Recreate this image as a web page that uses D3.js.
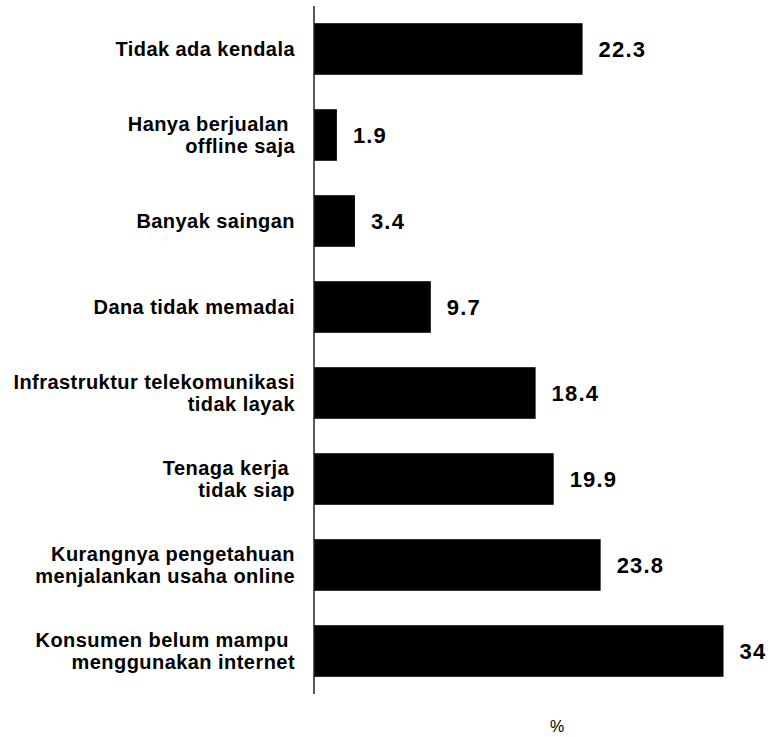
<!DOCTYPE html>
<html>
<head>
<meta charset="utf-8">
<script src="https://cdn.jsdelivr.net/npm/d3@7"></script>
<style>
  html, body { margin: 0; padding: 0; background: #fff; }
  svg { display: block; }
  text { font-family: "Liberation Sans", Arial, sans-serif; }
</style>
</head>
<body>
<svg id="chart" width="770" height="737"></svg>
<script>
const categories = [
  "Tidak ada kendala",
  "Hanya berjualan \noffline saja",
  "Banyak saingan",
  "Dana tidak memadai",
  "Infrastruktur telekomunikasi\ntidak layak",
  "Tenaga kerja \ntidak siap",
  "Kurangnya pengetahuan\nmenjalankan usaha online",
  "Konsumen belum mampu \nmenggunakan internet"
];
const values = [22.3, 1.9, 3.4, 9.7, 18.4, 19.9, 23.8, 34];
const valueLabels = ["22.3", "1.9", "3.4", "9.7", "18.4", "19.9", "23.8", "34"];
const unitLabel = "%";

const svg = d3.select("#chart");
const x = d3.scaleLinear().domain([0, 34]).range([314, 723.5]);
const y = d3.scaleBand().domain(categories).range([6, 694]).paddingInner(0.4).paddingOuter(0.2);

const data = categories.map((c, i) => ({ c, v: values[i], l: valueLabels[i] }));

svg.selectAll("rect.bar").data(data).enter().append("rect")
  .attr("class", "bar")
  .attr("x", x(0))
  .attr("y", d => y(d.c))
  .attr("width", d => x(d.v) - x(0))
  .attr("height", y.bandwidth())
  .attr("fill", "#000");

// axis line
svg.append("line")
  .attr("x1", x(0)).attr("x2", x(0))
  .attr("y1", y.range()[0]).attr("y2", y.range()[1])
  .attr("stroke", "#222").attr("stroke-width", 1.5);

// category labels
const lineH = 22.5;
const lab = svg.selectAll("text.cat").data(data).enter().append("text")
  .attr("class", "cat")
  .attr("text-anchor", "end")
  .attr("font-size", 20)
  .attr("font-weight", "bold")
  .attr("letter-spacing", 0.45)
  .style("white-space", "pre")
  .attr("fill", "#000");
lab.each(function(d) {
  const lines = d.c.split("\n");
  const cy = y(d.c) + y.bandwidth() / 2;
  const t = d3.select(this);
  lines.forEach((ln, k) => {
    t.append("tspan")
      .attr("x", x(0) - 19)
      .attr("y", cy + (k - (lines.length - 1) / 2) * lineH)
      .attr("dy", "0.36em")
      .text(ln);
  });
});

// value labels
svg.selectAll("text.val").data(data).enter().append("text")
  .attr("class", "val")
  .attr("x", d => x(d.v) + 16)
  .attr("y", d => y(d.c) + y.bandwidth() / 2)
  .attr("dy", "0.36em")
  .attr("font-size", 22)
  .attr("font-weight", "bold")
  .attr("letter-spacing", 1.2)
  .attr("fill", "#000")
  .text(d => d.l);

// unit label
svg.append("text")
  .attr("x", 557)
  .attr("y", 726)
  .attr("dy", "0.35em")
  .attr("text-anchor", "middle")
  .attr("font-size", 16)
  .attr("fill", "#000")
  .text(unitLabel);
</script>
</body>
</html>
